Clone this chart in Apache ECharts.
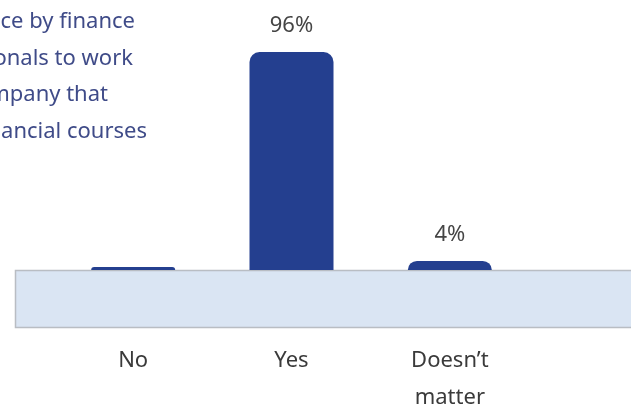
<!DOCTYPE html>
<html>
<head>
<meta charset="utf-8">
<script src="https://cdn.jsdelivr.net/npm/echarts@6/dist/echarts.min.js"></script>
<style>
  html, body { margin: 0; padding: 0; background: #ffffff; }
  #chart { width: 631px; height: 407px; }
</style>
</head>
<body>
<div id="chart"></div>
<script>
// Survey answers and their shares (percent)
const categories = ['No', 'Yes', 'Doesn\u2019t\nmatter'];
const shares = [0, 96, 4];
const shownLabels = [null, '96%', '4%'];

// Heading lines, each anchored by its right end
const headingLines = [
  'Preference by finance',
  'professionals to work',
  'in a company that',
  'offers financial courses'
];
const headingRightEdges = [135, 133, 108, 147];

const navy = '#243f8f';
const font = '"Noto Sans", "Open Sans", sans-serif';

const chart = echarts.init(document.getElementById('chart'), null, { renderer: 'canvas' });

const headingGraphics = headingLines.map((line, i) => ({
  type: 'text',
  z: 10,
  x: headingRightEdges[i],
  y: 22 + i * 36.5,
  style: {
    text: line,
    fill: '#3f4b88',
    font: '22px ' + font,
    textAlign: 'right',
    textVerticalAlign: 'middle'
  }
}));

chart.setOption({
  animation: false,
  grid: {
    left: 54, right: 102, top: 43, bottom: 137,
    containLabel: false,
    outerBoundsMode: 'none'
  },
  xAxis: {
    type: 'category',
    data: categories,
    axisLine: { show: false },
    axisTick: { show: false },
    axisLabel: {
      margin: 72,
      fontFamily: font,
      fontSize: 22,
      lineHeight: 37,
      color: '#3a3a3a'
    }
  },
  yAxis: {
    type: 'value',
    min: 0,
    max: 100,
    show: false
  },
  graphic: [
    {
      type: 'rect',
      z: -1,
      shape: { x: 15.5, y: 270.5, width: 640, height: 57 },
      style: { fill: '#dae5f3', stroke: '#b9bdc3', lineWidth: 1.5 }
    }
  ].concat(headingGraphics),
  series: [
    {
      type: 'bar',
      data: shares.map((v, i) => ({
        value: v,
        label: {
          show: shownLabels[i] !== null,
          formatter: shownLabels[i] || ''
        }
      })),
      barWidth: 84,
      barMinHeight: 3,
      itemStyle: { color: navy, borderRadius: [10, 10, 0, 0] },
      label: {
        position: 'top',
        distance: 15,
        fontFamily: font,
        fontSize: 22,
        color: '#454545'
      }
    }
  ]
});
</script>
</body>
</html>
